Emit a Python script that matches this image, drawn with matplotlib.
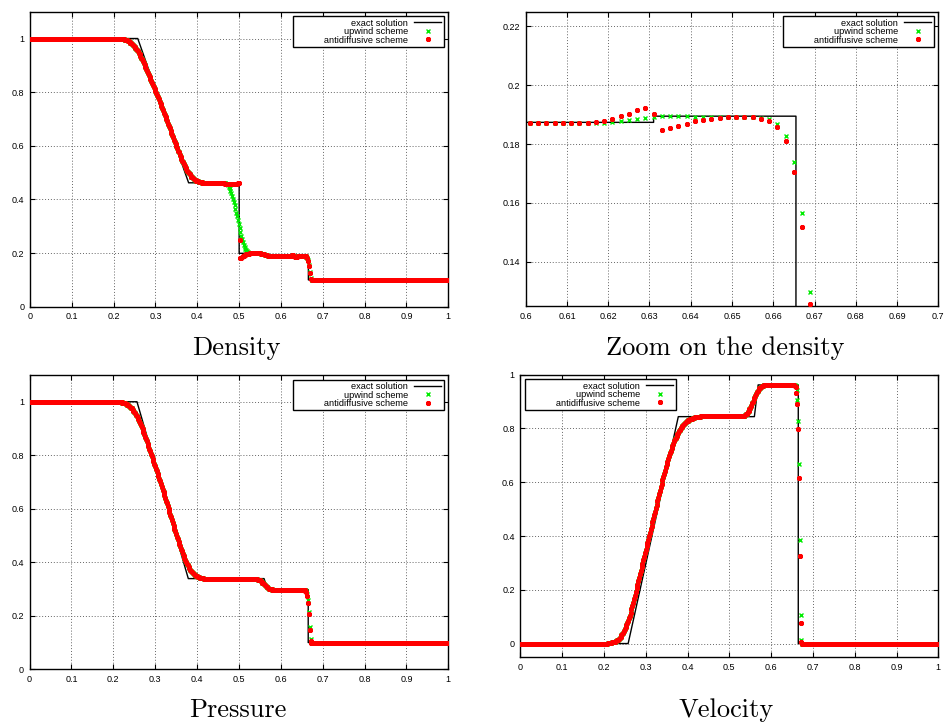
import numpy as np
import matplotlib
matplotlib.use("Agg")
import matplotlib.pyplot as plt
from matplotlib.ticker import FuncFormatter, MultipleLocator
from matplotlib.lines import Line2D

# ----------------------------------------------------------------- data ---
DX = 0.002   # cell width

# ---- Density -------------------------------------------------------------
rho_left = 1.0
rho_rare = [1.000, 1.000, 1.000, 1.000, 1.000, 1.000, 0.999, 0.999, 0.998, 0.998,
            0.997, 0.997, 0.996, 0.995, 0.994, 0.993, 0.991, 0.989, 0.987, 0.985,
            0.982, 0.979, 0.976, 0.973, 0.969, 0.965, 0.961, 0.957, 0.952, 0.947,
            0.941, 0.935, 0.929, 0.923, 0.916, 0.909, 0.901, 0.894, 0.887, 0.880,
            0.872, 0.865, 0.857, 0.850, 0.842, 0.835, 0.827, 0.820, 0.812, 0.804,
            0.796, 0.789, 0.781, 0.773, 0.765, 0.757, 0.749, 0.741, 0.732, 0.724,
            0.716, 0.708, 0.699, 0.691, 0.682, 0.674, 0.665, 0.657, 0.648, 0.640,
            0.631, 0.623, 0.614, 0.606, 0.598, 0.590, 0.582, 0.575, 0.567, 0.560,
            0.552, 0.545, 0.538, 0.531, 0.525, 0.519, 0.513, 0.507, 0.502, 0.497,
            0.493, 0.489, 0.485, 0.482, 0.479, 0.476, 0.474, 0.472, 0.470, 0.468,
            0.467, 0.466, 0.465, 0.464, 0.464, 0.463, 0.463, 0.462, 0.462]
rho_star = 0.462
rho_up_contact = [0.462, 0.462, 0.461, 0.460, 0.458, 0.456, 0.452, 0.447, 0.441, 0.433,
                  0.424, 0.414, 0.403, 0.391, 0.378, 0.365, 0.351, 0.337, 0.322, 0.307,
                  0.292, 0.278, 0.264, 0.251, 0.240, 0.230, 0.222, 0.215, 0.210, 0.206,
                  0.203, 0.201, 0.200, 0.200, 0.200]
rho_anti_contact = [0.461, 0.460, 0.459, 0.458, 0.458, 0.457, 0.457, 0.457, 0.457, 0.457,
                    0.457, 0.457, 0.457, 0.457, 0.458, 0.458, 0.459, 0.459, 0.460, 0.461,
                    0.247, 0.180, 0.182, 0.185, 0.188, 0.190, 0.192, 0.194, 0.195, 0.196,
                    0.197, 0.198, 0.199, 0.199, 0.200]
rho_mid = [0.200, 0.200, 0.200, 0.200, 0.200, 0.200, 0.200, 0.199, 0.199, 0.199,
           0.199, 0.198, 0.197, 0.196, 0.195, 0.194, 0.193, 0.192, 0.191, 0.190,
           0.1895, 0.189, 0.1885, 0.188, 0.1878, 0.1877, 0.1876, 0.1875, 0.1874, 0.1873,
           0.1872, 0.1872, 0.1872, 0.1872, 0.1872]
# zoom window 0.601 ... 0.669
zoom_up = [0.1872, 0.1872, 0.1872, 0.1872, 0.1872, 0.1872, 0.1872, 0.1872, 0.1872, 0.1872,
           0.1874, 0.1878, 0.1882, 0.1886, 0.1890, 0.1892, 0.1894, 0.1895, 0.1895, 0.1894,
           0.1893, 0.1893, 0.1893, 0.1893, 0.1891, 0.1891, 0.1891, 0.1891, 0.1889, 0.1885,
           0.1868, 0.1827, 0.1740, 0.1565, 0.1297]
zoom_anti = [0.1872, 0.1872, 0.1872, 0.1872, 0.1872, 0.1872, 0.1872, 0.1873, 0.1874, 0.1880,
             0.1886, 0.1894, 0.1904, 0.1916, 0.1923, 0.1904, 0.1849, 0.1855, 0.1861, 0.1869,
             0.1877, 0.1883, 0.1887, 0.1889, 0.1891, 0.1892, 0.1891, 0.1891, 0.1887, 0.1878,
             0.1857, 0.1809, 0.1707, 0.1518, 0.1256]
rho_up_tail = [0.106, 0.100]
rho_anti_tail = [0.103, 0.100]
rho_right = 0.1
rho_exact_x = [0, 0.2576, 0.3792, 0.5, 0.5, 0.560, 0.569, 0.631, 0.631, 0.6655, 0.6655, 1]
rho_exact_y = [1, 1, 0.462, 0.462, 0.199, 0.199, 0.1874, 0.1874, 0.1895, 0.1895, 0.1, 0.1]

# ---- Pressure ------------------------------------------------------------
p_left = 1.0
p_rare = [1.000, 1.000, 1.000, 1.000, 1.000, 1.000, 0.999, 0.999, 0.998, 0.998,
          0.997, 0.996, 0.995, 0.994, 0.993, 0.991, 0.989, 0.987, 0.984, 0.981,
          0.978, 0.975, 0.971, 0.967, 0.962, 0.957, 0.952, 0.947, 0.941, 0.935,
          0.928, 0.921, 0.913, 0.905, 0.897, 0.888, 0.878, 0.870, 0.861, 0.852,
          0.843, 0.834, 0.824, 0.815, 0.806, 0.797, 0.787, 0.778, 0.769, 0.759,
          0.749, 0.740, 0.731, 0.721, 0.711, 0.702, 0.692, 0.682, 0.671, 0.661,
          0.651, 0.641, 0.630, 0.620, 0.609, 0.599, 0.588, 0.578, 0.568, 0.558,
          0.547, 0.537, 0.526, 0.516, 0.506, 0.496, 0.486, 0.477, 0.468, 0.459,
          0.450, 0.441, 0.432, 0.424, 0.416, 0.409, 0.402, 0.395, 0.388, 0.382,
          0.377, 0.372, 0.367, 0.363, 0.360, 0.357, 0.354, 0.351, 0.349, 0.347,
          0.345, 0.344, 0.343, 0.342, 0.341, 0.340, 0.340, 0.339, 0.339]
p_star1 = 0.339
p_wave = [0.339, 0.339, 0.339, 0.339, 0.338, 0.338, 0.337, 0.336, 0.335, 0.334,
          0.332, 0.330, 0.327, 0.324, 0.321, 0.318, 0.315, 0.312, 0.309, 0.306,
          0.304, 0.302, 0.301, 0.300, 0.299, 0.298, 0.298]
p_star2 = 0.298
p_up_shock = [0.297, 0.296, 0.296, 0.292, 0.280, 0.258, 0.215, 0.157, 0.113, 0.101]
p_anti_shock = [0.297, 0.296, 0.294, 0.288, 0.275, 0.248, 0.205, 0.147, 0.106, 0.100]
p_right = 0.1
p_exact_x = [0, 0.2566, 0.3792, 0.560, 0.569, 0.6655, 0.6655, 1]
p_exact_y = [1, 1, 0.339, 0.339, 0.298, 0.298, 0.1, 0.1]

# ---- Velocity ------------------------------------------------------------
u_left = 0.0
u_rare = [0.000, 0.000, 0.000, 0.000, 0.001, 0.001, 0.002, 0.002, 0.003, 0.004,
          0.005, 0.006, 0.007, 0.008, 0.010, 0.012, 0.015, 0.018, 0.021, 0.025,
          0.030, 0.035, 0.041, 0.047, 0.054, 0.061, 0.069, 0.077, 0.085, 0.094,
          0.103, 0.115, 0.127, 0.139, 0.152, 0.165, 0.178, 0.191, 0.205, 0.218,
          0.231, 0.244, 0.257, 0.270, 0.283, 0.296, 0.309, 0.322, 0.335, 0.348,
          0.361, 0.374, 0.387, 0.400, 0.413, 0.426, 0.439, 0.452, 0.465, 0.478,
          0.491, 0.504, 0.517, 0.530, 0.543, 0.556, 0.569, 0.582, 0.594, 0.607,
          0.619, 0.631, 0.643, 0.655, 0.666, 0.677, 0.688, 0.698, 0.708, 0.718,
          0.727, 0.736, 0.744, 0.752, 0.759, 0.766, 0.773, 0.779, 0.785, 0.791,
          0.796, 0.801, 0.805, 0.809, 0.813, 0.817, 0.820, 0.823, 0.826, 0.828,
          0.830, 0.832, 0.834, 0.836, 0.837, 0.838, 0.839, 0.840, 0.841, 0.842,
          0.842, 0.843, 0.843, 0.844, 0.844, 0.845, 0.845]
u_star1 = 0.845
u_wave = [0.845, 0.845, 0.846, 0.847, 0.849, 0.852, 0.855, 0.860, 0.865, 0.871,
          0.878, 0.885, 0.893, 0.900, 0.908, 0.915, 0.922, 0.929, 0.935, 0.940,
          0.945, 0.949, 0.952, 0.955, 0.957, 0.959, 0.960, 0.961, 0.961, 0.962,
          0.962]
u_star2 = 0.962
u_up_shock_x = [0.653, 0.655, 0.657, 0.659, 0.6612, 0.6620, 0.6636, 0.6660, 0.6684, 0.6708, 0.6716]
u_up_shock = [0.962, 0.961, 0.960, 0.957, 0.943, 0.906, 0.829, 0.668, 0.384, 0.108, 0.012]
u_anti_shock_x = [0.653, 0.655, 0.657, 0.659, 0.6596, 0.6627, 0.6644, 0.6668, 0.6684, 0.6708, 0.6725]
u_anti_shock = [0.961, 0.960, 0.958, 0.955, 0.931, 0.890, 0.798, 0.617, 0.326, 0.077, 0.005]
u_right = 0.0
u_exact_x = [0, 0.258, 0.378, 0.560, 0.569, 0.665, 0.665, 1]
u_exact_y = [0, 0, 0.844, 0.844, 0.962, 0.962, 0, 0]

titles = ["Density", "Zoom on the density", "Pressure", "Velocity"]
legend_labels = ["exact solution", "upwind scheme", "antidiffusive scheme"]


# ------------------------------------------------------------ helpers ---
def seg(x0, vals):
    vals = np.asarray(vals, float)
    return x0 + DX * np.arange(len(vals)), vals


def flat(x0, x1, v):
    n = int(round((x1 - x0) / DX)) + 1
    return x0 + DX * np.arange(n), np.full(n, v)


def pts(xs, ys):
    return np.asarray(xs, float), np.asarray(ys, float)


def join(*parts):
    return (np.concatenate([p[0] for p in parts]),
            np.concatenate([p[1] for p in parts]))


rho_up = join(flat(0.001, 0.199, rho_left), seg(0.202, rho_rare),
              flat(0.420, 0.458, rho_star), seg(0.461, rho_up_contact),
              seg(0.531, rho_mid), seg(0.601, zoom_up),
              seg(0.671, rho_up_tail), flat(0.675, 0.999, rho_right))
rho_anti = join(flat(0.001, 0.199, rho_left), seg(0.202, rho_rare),
                flat(0.420, 0.458, rho_star), seg(0.461, rho_anti_contact),
                seg(0.531, rho_mid), seg(0.601, zoom_anti),
                seg(0.671, rho_anti_tail), flat(0.675, 0.999, rho_right))

p_up = join(flat(0.001, 0.199, p_left), seg(0.202, p_rare),
            flat(0.420, 0.528, p_star1), seg(0.530, p_wave),
            flat(0.584, 0.653, p_star2), seg(0.655, p_up_shock),
            flat(0.675, 0.999, p_right))
p_anti = join(flat(0.001, 0.199, p_left), seg(0.202, p_rare),
              flat(0.420, 0.528, p_star1), seg(0.530, p_wave),
              flat(0.584, 0.653, p_star2), seg(0.655, p_anti_shock),
              flat(0.675, 0.999, p_right))

u_up = join(flat(0.001, 0.199, u_left), seg(0.202, u_rare),
            flat(0.436, 0.528, u_star1), seg(0.530, u_wave),
            flat(0.592, 0.651, u_star2), pts(u_up_shock_x, u_up_shock),
            flat(0.675, 0.999, u_right))
u_anti = join(flat(0.001, 0.199, u_left), seg(0.202, u_rare),
              flat(0.436, 0.528, u_star1), seg(0.530, u_wave),
              flat(0.592, 0.651, u_star2), pts(u_anti_shock_x, u_anti_shock),
              flat(0.675, 0.999, u_right))

# -------------------------------------------------------------- style ---
GREEN = "#00ec00"
RED = "#ff0000"
TICKFONT = "Liberation Sans"
W, H = 946, 724
UP_MK = dict(ls="none", marker="x", ms=3.2, mew=1.0, color=GREEN)
AN_MK = dict(ls="none", marker=(8, 2, 0), ms=3.6, mew=1.25, color=RED)

fig = plt.figure(figsize=(W / 100, H / 100), dpi=100)


def px_axes(x0, y0, x1, y1):
    return fig.add_axes([x0 / W, 1 - y1 / H, (x1 - x0) / W, (y1 - y0) / H])


fmt = FuncFormatter(lambda v, pos: "%g" % round(v, 6))


def style(ax, xlim, ylim, xstep, ystep):
    ax.set_xlim(*xlim)
    ax.set_ylim(*ylim)
    ax.xaxis.set_major_locator(MultipleLocator(xstep))
    ax.yaxis.set_major_locator(MultipleLocator(ystep))
    ax.xaxis.set_major_formatter(fmt)
    ax.yaxis.set_major_formatter(fmt)
    ax.tick_params(direction="in", top=True, right=True, length=3.5, width=0.8,
                   labelsize=6.5, pad=4)
    for lab in ax.get_xticklabels() + ax.get_yticklabels():
        lab.set_fontfamily(TICKFONT)
    ax.grid(True, linestyle=(0, (1, 2)), color="0.4", linewidth=0.7)
    ax.set_axisbelow(True)
    for s in ax.spines.values():
        s.set_linewidth(1.0)
        s.set_color("black")


def draw(ax, ex_x, ex_y, up, anti, loc):
    ax.plot(ex_x, ex_y, color="black", lw=1.0, zorder=2)
    ax.plot(up[0], up[1], zorder=3, **UP_MK)
    ax.plot(anti[0], anti[1], zorder=4, **AN_MK)
    handles = [Line2D([], [], color="black", lw=1.0),
               Line2D([], [], **UP_MK),
               Line2D([], [], **AN_MK)]
    labels = list(legend_labels)
    labels[2] = " " * 11 + labels[2]
    leg = ax.legend(handles, labels, loc=loc, markerfirst=False,
                    prop={"family": TICKFONT, "size": 6.7}, fancybox=False,
                    framealpha=1, edgecolor="black", borderpad=0.25,
                    labelspacing=-0.05, handlelength=2.9, handletextpad=0.65,
                    borderaxespad=0.5)
    leg.get_frame().set_linewidth(1.0)
    leg.set_zorder(10)


ax1 = px_axes(30, 11.7, 448.3, 306.7)
style(ax1, (0, 1), (0, 1.1), 0.1, 0.2)
draw(ax1, rho_exact_x, rho_exact_y, rho_up, rho_anti, "upper right")

ax2 = px_axes(525.7, 11.7, 938.3, 306)
style(ax2, (0.6, 0.7), (0.125, 0.225), 0.01, 0.02)
draw(ax2, rho_exact_x, rho_exact_y, rho_up, rho_anti, "upper right")

ax3 = px_axes(29.5, 375, 448.3, 669.3)
style(ax3, (0, 1), (0, 1.1), 0.1, 0.2)
draw(ax3, p_exact_x, p_exact_y, p_up, p_anti, "upper right")

ax4 = px_axes(520.3, 374.7, 938.3, 657)
style(ax4, (0, 1), (-0.05, 1.0), 0.1, 0.2)
draw(ax4, u_exact_x, u_exact_y, u_up, u_anti, "upper left")

title_pos = [(236, 355), (725, 355), (238, 717), (726, 717)]
for t, (tx, ty) in zip(titles, title_pos):
    fig.text(tx / W, 1 - ty / H, t, ha="center", va="baseline",
             fontsize=19, fontfamily="cmr10")

fig.savefig("out.png", dpi=100)
